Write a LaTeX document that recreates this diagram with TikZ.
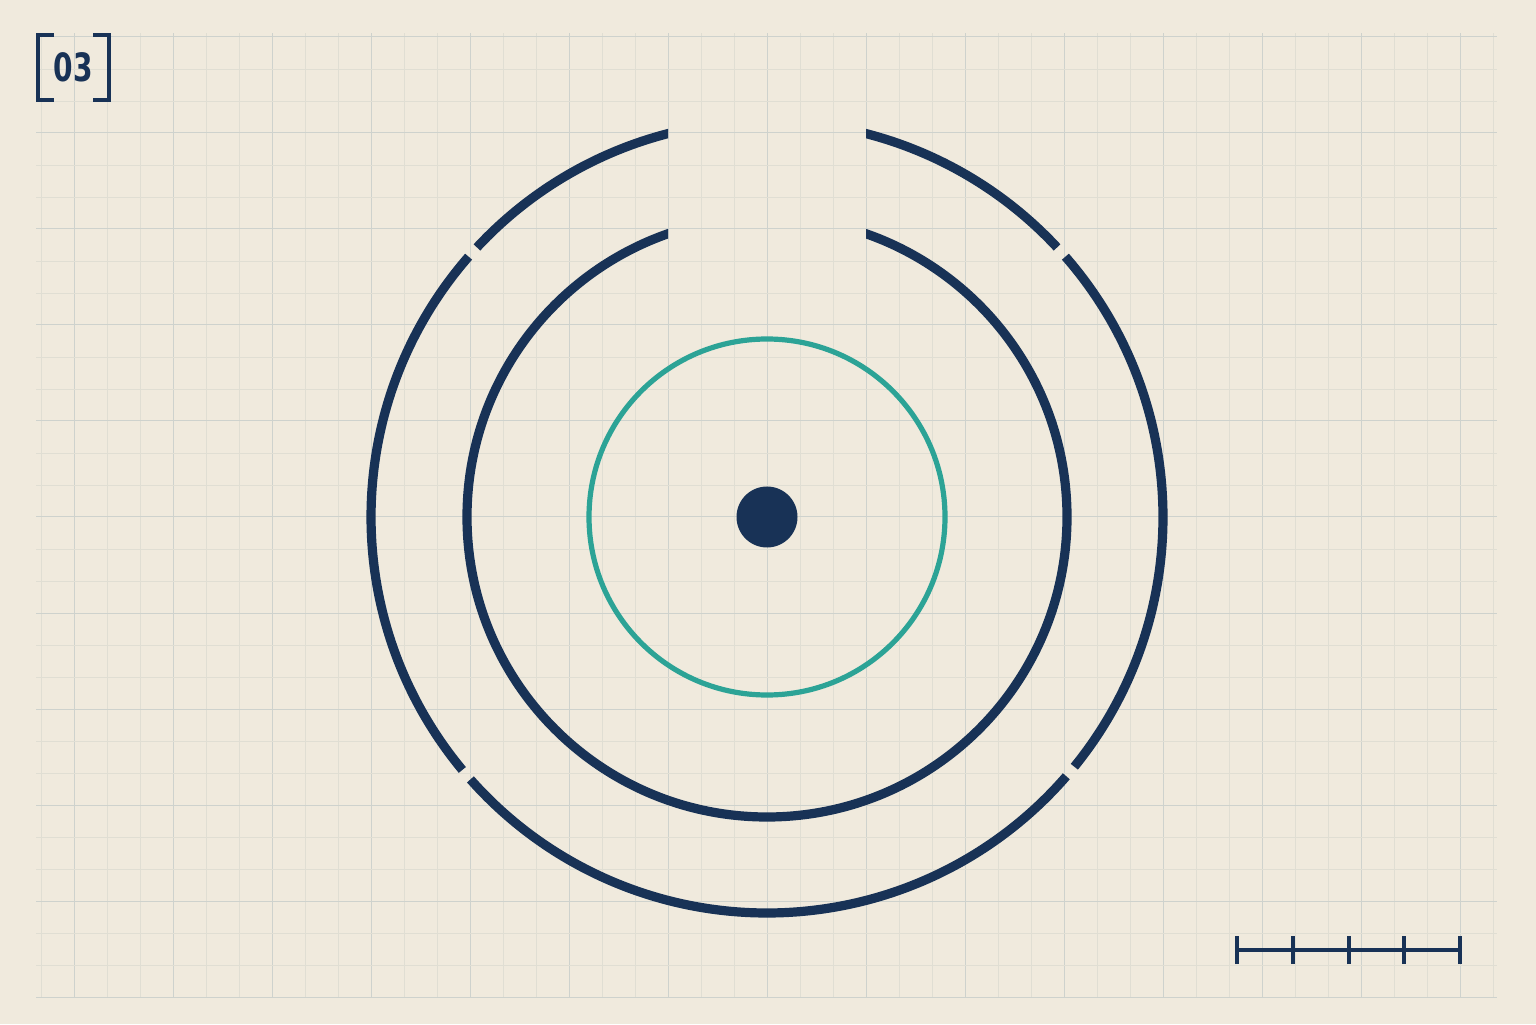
\documentclass[tikz,border=0pt]{standalone}
\usepackage{fontspec}
\newfontfamily\labfont{DejaVu Sans}
\definecolor{paper}{RGB}{240,234,221}
\definecolor{navy}{RGB}{24,50,86}
\definecolor{tealc}{RGB}{44,163,150}
\definecolor{gridminor}{RGB}{224,222,211}
\definecolor{gridmajor}{RGB}{206,210,205}
\tikzset{
  minorgrid/.style={draw=gridminor,line width=0.35pt},
  majorgrid/.style={draw=gridmajor,line width=0.5pt},
  ring/.style={draw=navy,line width=4.6pt},
  tealring/.style={draw=tealc,line width=2.6pt},
  barline/.style={draw=navy,line width=2pt},
  bracket/.style={draw=navy,line width=2pt},
}
\begin{document}
\begin{tikzpicture}[x=0.5pt,y=0.5pt]
\fill[paper] (0,0) rectangle (1536,1024);
\useasboundingbox (0,0) rectangle (1536,1024);
% grid
\foreach \k in {-22,...,22} {
  \pgfmathsetmacro\xx{767+33*\k}
  \pgfmathtruncatemacro\m{mod(abs(\k),3)}
  \ifnum\m=0 \draw[majorgrid] (\xx,27) -- (\xx,991);
  \else \draw[minorgrid] (\xx,27) -- (\xx,991); \fi
}
\foreach \k in {-15,...,15} {
  \pgfmathsetmacro\yy{507-32*\k}
  \pgfmathtruncatemacro\m{mod(abs(\k),3)}
  \ifnum\m=0 \draw[majorgrid] (36,\yy) -- (1497,\yy);
  \else \draw[minorgrid] (36,\yy) -- (1497,\yy); \fi
}
\coordinate (c) at (767,507);
% rings with the top gap cut vertically
\begin{scope}[even odd rule]
  \clip (0,0) rectangle (1536,1024) (668,724) rectangle (866,1030);
  \draw[ring] (c) ++(-39.1:396) arc[start angle=-39.1, end angle=41.1, radius=396];
  \draw[ring] (c) ++(42.9:396) arc[start angle=42.9, end angle=137.1, radius=396];
  \draw[ring] (c) ++(138.9:396) arc[start angle=138.9, end angle=219.7, radius=396];
  \draw[ring] (c) ++(221.5:396) arc[start angle=221.5, end angle=319.1, radius=396];
  \draw[ring] (c) circle[radius=300];
\end{scope}
\draw[tealring] (c) circle[radius=178];
\fill[navy] (c) circle[radius=30.5];
\node[circle,inner sep=0pt,minimum size=30.5pt] (dot) at (c) {};
% label [03]
\draw[bracket] (54,989) -- (38,989) -- (38,924) -- (54,924);
\draw[bracket] (93,989) -- (109,989) -- (109,924) -- (93,924);
\node[text=navy,inner sep=0pt] (lbl) at (73.5,957) {\scalebox{0.72}[1]{\fontsize{19.5pt}{20pt}\labfont\bfseries 03}};
% scale bar
\coordinate (s0) at (1237,74);
\coordinate (s4) at (1460,74);
\draw[barline] (s0) -- (s4);
\foreach \i in {0,...,4} {
  \draw[barline] (1237+55.75*\i,60) -- (1237+55.75*\i,88);
}
\end{tikzpicture}
\end{document}
